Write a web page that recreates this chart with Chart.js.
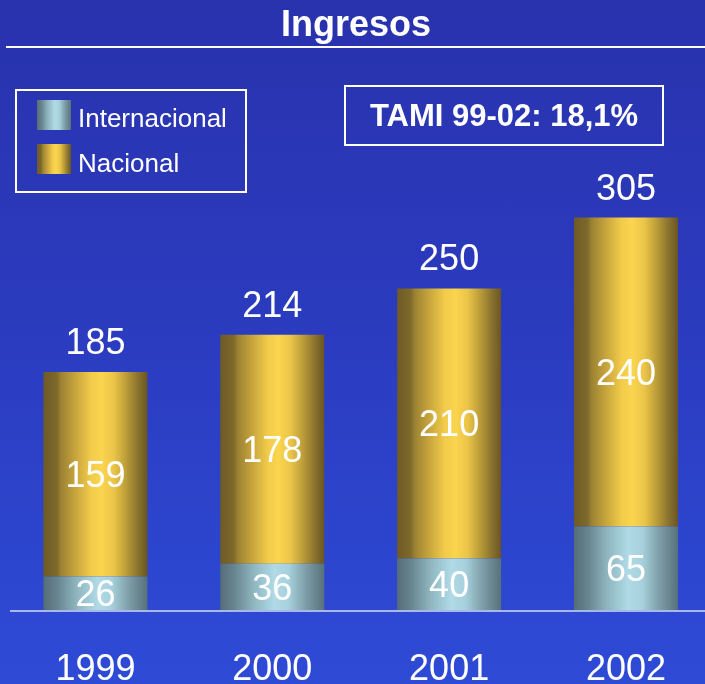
<!DOCTYPE html>
<html>
<head>
<meta charset="utf-8">
<script src="https://cdn.jsdelivr.net/npm/chart.js@4/dist/chart.umd.min.js"></script>
<style>
  html, body { margin: 0; padding: 0; width: 705px; height: 684px; overflow: hidden; }
  body {
    position: relative;
    background: linear-gradient(to bottom, #2932ad 0%, #2b3cc0 50%, #2e4bd6 100%);
    font-family: "Liberation Sans", Arial, sans-serif;
    color: #fff;
  }
  #chart { position: absolute; left: 0; top: 0; }
  .box { position: absolute; border: 2px solid #fff; box-sizing: border-box; }
  .swatch { position: absolute; width: 34px; height: 30px; }
  .legText { position: absolute; font-size: 26px; line-height: 30px; white-space: nowrap; }
  #tami { position: absolute; left: 344px; width: 320px; top: 98px; text-align: center;
          font-weight: bold; font-size: 31px; line-height: 36px; white-space: nowrap; }
</style>
</head>
<body>
<canvas id="chart" width="715" height="684"></canvas>
<div class="box" style="left:15px;top:89px;width:232px;height:104px"></div>
<div id="legend"></div>
<div class="box" style="left:344px;top:85px;width:320px;height:61px"></div>
<div id="tami"></div>
<script>
const years = ['1999', '2000', '2001', '2002'];
const internacional = [26, 36, 40, 65];
const nacional = [159, 178, 210, 240];
const totals = [185, 214, 250, 305];
const seriesNames = ['Internacional', 'Nacional'];
const chartTitle = 'Ingresos';
const tamiText = 'TAMI 99-02: 18,1%';

// horizontal "cylinder" shading for each series
const blueStops = [[0, '#566d77'], [0.14, '#688690'], [0.32, '#8fb6c0'], [0.52, '#afdae6'],
  [0.66, '#a6d0dc'], [0.82, '#7e9ea8'], [1, '#58717b']];
const goldStops = [[0, '#6e5a24'], [0.13, '#7e6a2c'], [0.17, '#9c8232'], [0.32, '#cba83e'],
  [0.46, '#f2cc4a'], [0.56, '#fbd54e'], [0.68, '#eac448'], [0.8, '#b99b38'], [0.9, '#8e7630'], [1, '#6a5522']];

const FONT = '"Liberation Sans", Arial, sans-serif';
const BAR_PCT = 0.588;

function cssGradient(stops) {
  return 'linear-gradient(to right, ' + stops.map(s => s[1] + ' ' + (s[0] * 100) + '%').join(', ') + ')';
}

function barGradient(stops, fallback) {
  return function (ctx) {
    const chart = ctx.chart;
    if (!chart.chartArea || !chart.scales.x) return fallback;
    const xs = chart.scales.x;
    const cx = xs.getPixelForValue(ctx.dataIndex);
    const w = xs.width / years.length * BAR_PCT;
    const g = chart.ctx.createLinearGradient(cx - w / 2, 0, cx + w / 2, 0);
    stops.forEach(s => g.addColorStop(s[0], s[1]));
    return g;
  };
}

const labelPlugin = {
  id: 'labels',
  beforeDatasetsDraw(chart) {
    const c = chart.ctx;
    c.save();
    c.fillStyle = '#fff';
    c.fillRect(6, 46, 705, 2);
    c.font = 'bold 36px ' + FONT;
    c.textAlign = 'center';
    c.textBaseline = 'alphabetic';
    c.fillText(chartTitle, 356, 36);
    c.restore();
  },
  afterDatasetsDraw(chart) {
    const c = chart.ctx;
    c.save();
    c.fillStyle = '#aab6ee';
    c.fillRect(10, chart.chartArea.bottom, 705, 2);
    c.fillStyle = '#fff';
    c.font = '36px ' + FONT;
    c.textAlign = 'center';
    c.textBaseline = 'alphabetic';
    chart.data.datasets.forEach((ds, di) => {
      chart.getDatasetMeta(di).data.forEach((el, i) => {
        const mid = (el.y + el.base) / 2;
        c.fillText(String(ds.data[i]), el.x, mid + 13);
      });
    });
    const top = chart.getDatasetMeta(1).data;
    top.forEach((el, i) => {
      c.fillText(String(totals[i]), el.x, el.y - 18);
    });
    const xs = chart.scales.x;
    years.forEach((y, i) => {
      c.fillText(y, xs.getPixelForValue(i), 680);
    });
    c.restore();
  }
};

const chart = new Chart(document.getElementById('chart'), {
  type: 'bar',
  data: {
    labels: years,
    datasets: [
      { label: seriesNames[0], data: internacional, backgroundColor: barGradient(blueStops, '#8fb6c0') },
      { label: seriesNames[1], data: nacional, backgroundColor: barGradient(goldStops, '#d9b640') }
    ]
  },
  options: {
    responsive: false,
    animation: false,
    events: [],
    layout: { padding: { left: 7, right: 0.6, top: 95.4, bottom: 74 } },
    datasets: { bar: { barPercentage: BAR_PCT, categoryPercentage: 1, borderWidth: 0 } },
    scales: {
      x: { display: false, stacked: true },
      y: { display: false, stacked: true, min: 0, max: 400 }
    },
    plugins: { legend: { display: false }, title: { display: false }, tooltip: { enabled: false } }
  },
  plugins: [labelPlugin]
});

// html legend built from the datasets
const legend = document.getElementById('legend');
const swatchStops = [blueStops, goldStops];
chart.data.datasets.forEach((ds, i) => {
  const sw = document.createElement('div');
  sw.className = 'swatch';
  sw.style.left = '37px';
  sw.style.top = (100 + i * 44) + 'px';
  sw.style.background = cssGradient(swatchStops[i]);
  legend.appendChild(sw);
  const t = document.createElement('div');
  t.className = 'legText';
  t.style.left = '78px';
  t.style.top = (103 + i * 45) + 'px';
  t.textContent = ds.label;
  legend.appendChild(t);
});
document.getElementById('tami').textContent = tamiText;
</script>
</body>
</html>
